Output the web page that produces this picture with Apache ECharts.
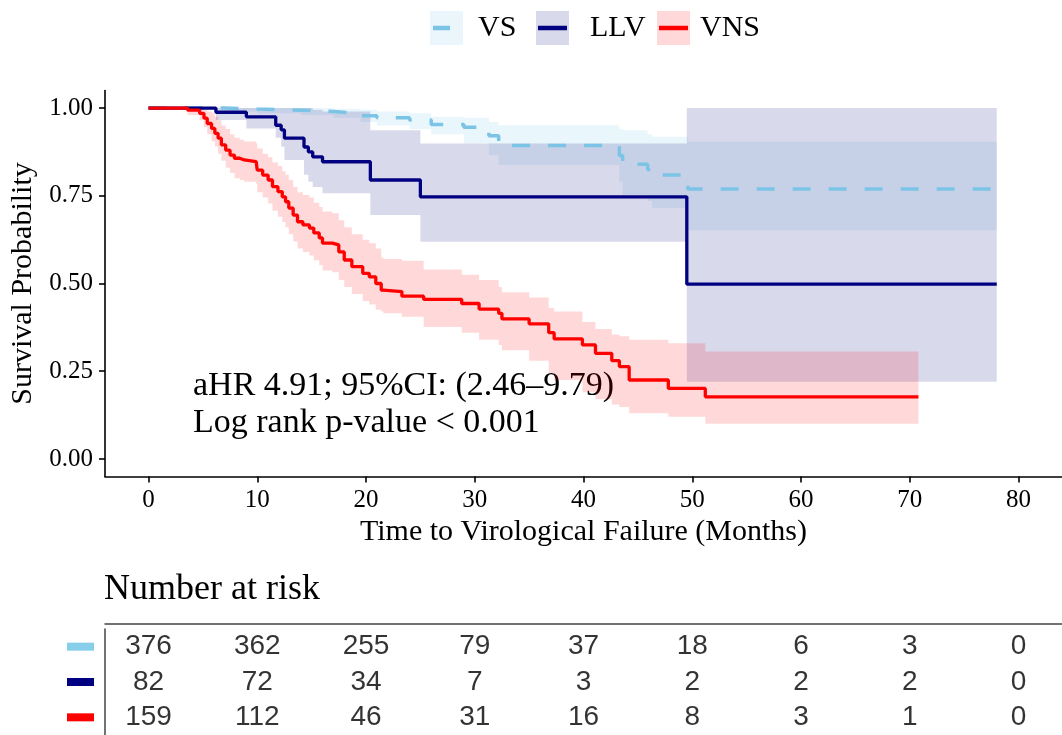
<!DOCTYPE html>
<html>
<head>
<meta charset="utf-8">
<script src="https://cdn.jsdelivr.net/npm/echarts@6/dist/echarts.min.js"></script>
<style>
html,body{margin:0;padding:0;background:#fff;}
#chart{width:1062px;height:735px;}
</style>
</head>
<body>
<div id="chart"></div>
<script>
// ---------- data ----------
const groupNames = ['VS', 'LLV', 'VNS'];
const timeTicks = [0, 10, 20, 30, 40, 50, 60, 70, 80];
const probTicks = [0, 0.25, 0.5, 0.75, 1];

// VS (virological suppression)
const vsTime  = [0, 7.0, 10, 14, 17, 19.5, 21, 24, 26, 29, 31.3, 32.2, 43.3, 43.6, 45.9, 46.3, 49.6, 78];
const vsSurv  = [1, 0.997, 0.994, 0.99, 0.985, 0.978, 0.972, 0.966, 0.953, 0.945, 0.921, 0.893, 0.865, 0.84, 0.825, 0.809, 0.769, 0.769];
const vsLower = [1, 0.99, 0.985, 0.98, 0.972, 0.96, 0.95, 0.94, 0.925, 0.90, 0.866, 0.838, 0.79, 0.752, 0.735, 0.715, 0.652, 0.652];
const vsUpper = [1, 1, 1, 1, 0.998, 0.995, 0.99, 0.985, 0.975, 0.972, 0.96, 0.951, 0.94, 0.937, 0.925, 0.918, 0.904, 0.904];

// LLV (low-level viraemia)
const llvTime  = [0, 6.2, 9.0, 11.7, 12.2, 12.5, 14.3, 14.7, 15.1, 16.0, 20.4, 25.0, 49.5, 78];
const llvSurv  = [1, 0.988, 0.975, 0.951, 0.938, 0.914, 0.889, 0.875, 0.861, 0.847, 0.795, 0.747, 0.498, 0.498];
const llvLower = [1, 0.966, 0.942, 0.915, 0.89, 0.852, 0.81, 0.79, 0.775, 0.757, 0.695, 0.619, 0.22, 0.22];
const llvUpper = [1, 1, 1, 1, 1, 1, 1, 1, 0.995, 0.99, 0.937, 0.899, 1, 1];

// VNS (virological non-suppression)
const vnsTime  = [0, 3.6, 4.7, 5.1, 5.4, 5.8, 6.1, 6.4, 6.7, 7.1, 7.5, 7.9, 8.4, 8.8, 9.9, 10.0, 10.5, 11.0, 11.4, 11.9, 12.3, 12.6, 12.9, 13.3, 13.7, 14.2, 14.8, 15.2, 15.7, 16.0, 16.9, 17.5, 18.0, 18.7, 19.7, 20.3, 20.9, 21.4, 21.6, 23.3, 25.3, 28.8, 30.4, 32.2, 32.5, 35.0, 36.8, 37.3, 39.9, 41.1, 42.6, 43.3, 44.2, 47.8, 51.2, 70.8];
const vnsSurv  = [1, 0.994, 0.985, 0.971, 0.956, 0.942, 0.928, 0.914, 0.895, 0.88, 0.866, 0.857, 0.852, 0.847, 0.843, 0.823, 0.809, 0.795, 0.776, 0.762, 0.747, 0.733, 0.715, 0.695, 0.676, 0.667, 0.658, 0.644, 0.63, 0.615, 0.61, 0.59, 0.567, 0.548, 0.529, 0.519, 0.5, 0.481, 0.477, 0.464, 0.455, 0.443, 0.427, 0.415, 0.399, 0.385, 0.36, 0.342, 0.325, 0.301, 0.28, 0.263, 0.225, 0.201, 0.177, 0.177];
const vnsLower = [1, 0.98, 0.965, 0.945, 0.925, 0.905, 0.89, 0.87, 0.85, 0.83, 0.815, 0.80, 0.795, 0.79, 0.785, 0.76, 0.745, 0.728, 0.707, 0.69, 0.675, 0.66, 0.64, 0.62, 0.60, 0.59, 0.58, 0.566, 0.552, 0.537, 0.532, 0.51, 0.49, 0.47, 0.45, 0.44, 0.425, 0.42, 0.415, 0.405, 0.376, 0.36, 0.34, 0.325, 0.31, 0.28, 0.245, 0.225, 0.19, 0.17, 0.155, 0.148, 0.13, 0.12, 0.10, 0.10];
const vnsUpper = [1, 1, 1, 0.995, 0.99, 0.985, 0.975, 0.965, 0.95, 0.94, 0.925, 0.915, 0.91, 0.905, 0.90, 0.885, 0.87, 0.86, 0.845, 0.835, 0.82, 0.81, 0.795, 0.775, 0.76, 0.752, 0.745, 0.73, 0.718, 0.705, 0.70, 0.68, 0.66, 0.64, 0.625, 0.615, 0.60, 0.575, 0.57, 0.565, 0.54, 0.525, 0.51, 0.49, 0.475, 0.46, 0.43, 0.42, 0.39, 0.37, 0.355, 0.35, 0.34, 0.33, 0.306, 0.306];

// Number at risk at timeTicks
const riskVS  = [376, 362, 255, 79, 37, 18, 6, 3, 0];
const riskLLV = [82, 72, 34, 7, 3, 2, 2, 2, 0];
const riskVNS = [159, 112, 46, 31, 16, 8, 3, 1, 0];

const annotationLines = ['aHR 4.91; 95%CI: (2.46\u20139.79)', 'Log rank p-value < 0.001'];

// ---------- styles ----------
const lineColors = { VS: '#7CC4E6', LLV: '#000080', VNS: '#FF0000' };
const keyColors  = { VS: '#87CEEB', LLV: '#000080', VNS: '#FF0000' };
const bandColors = { VS: 'rgba(135,206,235,0.18)', LLV: 'rgba(0,0,128,0.15)', VNS: 'rgba(255,0,0,0.15)' };
const legendBg   = { VS: '#EAF6FB', LLV: '#D9D9EC', VNS: '#FFD9D9' };
const serif = '"Liberation Serif", "DejaVu Serif", serif';
const sans = '"Liberation Sans", Arial, sans-serif';

function pairs(t, v) { return t.map((x, i) => [x, v[i]]); }

function bandSeries(name, t, lo, hi) {
  return {
    type: 'custom', name: name + ' CI', xAxisIndex: 0, yAxisIndex: 0,
    silent: true, z: 1,
    data: [[t[0], hi[0]]],
    renderItem: function (params, api) {
      const n = t.length, pts = [];
      for (let i = 0; i < n; i++) {
        pts.push(api.coord([t[i], hi[i]]));
        if (i + 1 < n) pts.push(api.coord([t[i + 1], hi[i]]));
      }
      for (let i = n - 1; i >= 0; i--) {
        if (i + 1 < n) pts.push(api.coord([t[i + 1], lo[i]]));
        pts.push(api.coord([t[i], lo[i]]));
      }
      return { type: 'polygon', shape: { points: pts }, style: { fill: bandColors[name] } };
    }
  };
}

function lineSeries(name, t, s, dashed) {
  return {
    type: 'line', name: name, xAxisIndex: 0, yAxisIndex: 0,
    data: pairs(t, s), step: 'end', symbol: 'none', showSymbol: false, z: 3,
    lineStyle: { color: lineColors[name], width: dashed ? 3.5 : 3.3, type: dashed ? [18, 18] : 'solid', cap: 'butt' },
    silent: true
  };
}

const riskRows = [riskVS, riskLLV, riskVNS];
const riskData = [];
riskRows.forEach((row, r) => {
  row.forEach((v, k) => riskData.push([timeTicks[k], groupNames[r], v]));
});

// legend drawn as graphic keys (band box + line + label)
const legendItems = [
  { name: 'VS', box: 430, lineFrom: 433, lineTo: 450, text: 478 },
  { name: 'LLV', box: 536, lineFrom: 538, lineTo: 567, text: 590 },
  { name: 'VNS', box: 657, lineFrom: 659, lineTo: 688, text: 700 }
];
const graphics = [];
legendItems.forEach(it => {
  graphics.push({ type: 'rect', left: it.box, top: 11, shape: { width: 33, height: 34 }, style: { fill: legendBg[it.name] }, silent: true });
  graphics.push({ type: 'line', shape: { x1: it.lineFrom, y1: 28, x2: it.lineTo, y2: 28 }, style: { stroke: lineColors[it.name], lineWidth: 4.5 }, silent: true });
  graphics.push({ type: 'text', x: it.text, y: 28, style: { text: it.name, font: '30px ' + serif, fill: '#000', textVerticalAlign: 'middle' }, silent: true });
});
graphics.push({ type: 'text', x: 193, y: 386, style: { text: annotationLines[0], font: '34px ' + serif, fill: '#000', textVerticalAlign: 'middle' }, silent: true });
graphics.push({ type: 'text', x: 193, y: 423, style: { text: annotationLines[1], font: '34px ' + serif, fill: '#000', textVerticalAlign: 'middle' }, silent: true });
graphics.push({ type: 'text', x: 104, y: 590, style: { text: 'Number at risk', font: '36px ' + serif, fill: '#000', textVerticalAlign: 'middle' }, silent: true });

const chart = echarts.init(document.getElementById('chart'), null, { renderer: 'canvas' });
chart.setOption({
  animation: false,
  backgroundColor: '#ffffff',
  graphic: graphics,
  grid: [
    { left: 105, top: 90.5, width: 958.6, height: 386, containLabel: false },
    { left: 105, top: 629, width: 958.6, height: 110, containLabel: false }
  ],
  xAxis: [
    {
      type: 'value', gridIndex: 0, min: -4, max: 84,
      name: 'Time to Virological Failure (Months)', nameLocation: 'middle', nameGap: 41,
      nameTextStyle: { fontFamily: serif, fontSize: 30, color: '#000' },
      axisLine: { onZero: false, lineStyle: { color: '#000', width: 1.6 } },
      axisTick: { show: true, length: 6, customValues: timeTicks, lineStyle: { color: '#000', width: 1.6 } },
      axisLabel: { customValues: timeTicks, fontFamily: serif, fontSize: 25, color: '#000', margin: 11 },
      splitLine: { show: false }, minorTick: { show: false }
    },
    {
      type: 'value', gridIndex: 1, min: -4, max: 84, position: 'top', offset: 5,
      axisLine: { show: true, onZero: false, lineStyle: { color: '#444', width: 1.5 } },
      axisTick: { show: false }, axisLabel: { show: false }, splitLine: { show: false }
    }
  ],
  yAxis: [
    {
      type: 'value', gridIndex: 0, min: -0.05, max: 1.05,
      name: 'Survival Probability', nameLocation: 'middle', nameGap: 66, nameRotate: 90,
      nameTextStyle: { fontFamily: serif, fontSize: 30, color: '#000' },
      axisLine: { show: true, onZero: false, lineStyle: { color: '#000', width: 1.6 } },
      axisTick: { show: true, length: 6, customValues: probTicks, lineStyle: { color: '#000', width: 1.6 } },
      axisLabel: { customValues: probTicks, formatter: v => v.toFixed(2), fontFamily: serif, fontSize: 25, color: '#000', margin: 12 },
      splitLine: { show: false }, minorTick: { show: false }
    },
    {
      type: 'category', gridIndex: 1, data: groupNames, inverse: true, position: 'left',
      axisLine: { show: true, onZero: false, lineStyle: { color: '#444', width: 1.5 } },
      axisTick: { show: false },
      axisLabel: {
        margin: 11,
        formatter: v => '{' + v + '|}',
        rich: {
          VS: { backgroundColor: keyColors.VS, width: 27, height: 8 },
          LLV: { backgroundColor: keyColors.LLV, width: 27, height: 8 },
          VNS: { backgroundColor: keyColors.VNS, width: 27, height: 8 }
        }
      },
      splitLine: { show: false }
    }
  ],
  series: [
    bandSeries('VS', vsTime, vsLower, vsUpper),
    bandSeries('LLV', llvTime, llvLower, llvUpper),
    bandSeries('VNS', vnsTime, vnsLower, vnsUpper),
    lineSeries('VS', vsTime, vsSurv, true),
    lineSeries('LLV', llvTime, llvSurv, false),
    lineSeries('VNS', vnsTime, vnsSurv, false),
    {
      type: 'scatter', name: 'Number at risk', xAxisIndex: 1, yAxisIndex: 1,
      data: riskData, symbol: 'rect', symbolSize: 1,
      itemStyle: { color: 'rgba(0,0,0,0)' },
      label: {
        show: true, position: 'inside',
        formatter: p => String(p.value[2]),
        fontFamily: sans, fontSize: 28, color: '#000'
      },
      silent: true
    }
  ]
});
</script>
</body>
</html>
